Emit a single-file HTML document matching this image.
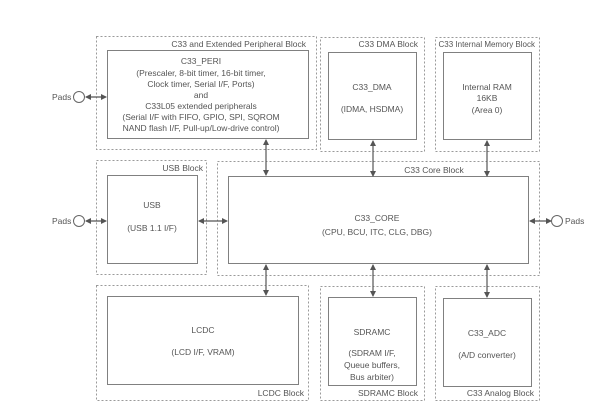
<!DOCTYPE html>
<html><head><meta charset="utf-8"><style>
html,body{margin:0;padding:0;background:#fff;width:607px;height:418px;overflow:hidden}
text{font-family:"Liberation Sans",Arial,sans-serif;font-size:8.5px;fill:#555}
</style></head><body>
<svg width="607" height="418" viewBox="0 0 607 418" xmlns="http://www.w3.org/2000/svg">
<defs>
<marker id="a" viewBox="0 0 6 6" refX="5" refY="3" markerWidth="5" markerHeight="5" orient="auto-start-reverse"><path d="M0,0L6,3L0,6z" fill="#555"/></marker>
</defs>
<g fill="none" stroke="#9a9a9a" stroke-width="1" stroke-dasharray="2,2">
<rect x="96.5" y="36.5" width="220" height="113"/>
<rect x="320.5" y="37.5" width="104" height="114"/>
<rect x="435.5" y="37.5" width="104" height="114"/>
<rect x="96.5" y="160.5" width="110" height="114"/>
<rect x="217.5" y="161.5" width="322" height="114"/>
<rect x="96.5" y="285.5" width="212" height="115"/>
<rect x="320.5" y="286.5" width="104" height="114"/>
<rect x="435.5" y="286.5" width="104" height="114"/>
</g>
<g fill="#fff" stroke="#808080" stroke-width="1">
<rect x="107.5" y="50.5" width="201" height="88"/>
<rect x="328.5" y="52.5" width="88" height="87"/>
<rect x="443.5" y="52.5" width="88" height="87"/>
<rect x="107.5" y="175.5" width="90" height="88"/>
<rect x="228.5" y="176.5" width="300" height="87"/>
<rect x="107.5" y="296.5" width="191" height="88"/>
<rect x="328.5" y="297.5" width="88" height="88"/>
<rect x="443.5" y="298.5" width="88" height="88"/>
</g>
<g stroke="#555" stroke-width="1.2" marker-start="url(#a)" marker-end="url(#a)">
<line x1="266" y1="140" x2="266" y2="175"/>
<line x1="373" y1="141" x2="373" y2="176"/>
<line x1="487" y1="141" x2="487" y2="176"/>
<line x1="266" y1="265" x2="266" y2="295"/>
<line x1="373" y1="265" x2="373" y2="296"/>
<line x1="487" y1="265" x2="487" y2="297"/>
<line x1="86" y1="97" x2="106" y2="97"/>
<line x1="86" y1="221" x2="106" y2="221"/>
<line x1="199" y1="221" x2="227" y2="221"/>
<line x1="530" y1="221" x2="551" y2="221"/>
</g>
<g fill="#fff" stroke="#666">
<circle cx="79" cy="97" r="5.5"/><circle cx="79" cy="221" r="5.5"/><circle cx="557" cy="221" r="5.5"/>
</g>
<text x="52" y="100">Pads</text><text x="52" y="224">Pads</text><text x="565" y="224">Pads</text>
<g text-anchor="end">
<text x="306" y="47">C33 and Extended Peripheral Block</text>
<text x="418" y="47">C33 DMA Block</text>
<text x="535" y="47" style="font-size:8px">C33 Internal Memory Block</text>
<text x="203" y="171">USB Block</text>
<text x="304" y="396">LCDC Block</text>
<text x="418" y="396">SDRAMC Block</text>
<text x="534" y="396">C33 Analog Block</text>
</g>
<text x="434" y="173" text-anchor="middle">C33 Core Block</text>
<g text-anchor="middle">
<text x="201" y="64">C33_PERI</text>
<text x="201" y="76">(Prescaler, 8-bit timer, 16-bit timer,</text>
<text x="201" y="87">Clock timer, Serial I/F, Ports)</text>
<text x="201" y="98">and</text>
<text x="201" y="109">C33L05 extended peripherals</text>
<text x="201" y="120">(Serial I/F with FIFO, GPIO, SPI, SQROM</text>
<text x="201" y="131">NAND flash I/F, Pull-up/Low-drive control)</text>
<text x="372" y="90">C33_DMA</text>
<text x="372" y="112">(IDMA, HSDMA)</text>
<text x="487" y="90">Internal RAM</text>
<text x="487" y="101">16KB</text>
<text x="487" y="113">(Area 0)</text>
<text x="152" y="208">USB</text>
<text x="152" y="231">(USB 1.1 I/F)</text>
<text x="377" y="221">C33_CORE</text>
<text x="377" y="235">(CPU, BCU, ITC, CLG, DBG)</text>
<text x="203" y="333">LCDC</text>
<text x="203" y="355">(LCD I/F, VRAM)</text>
<text x="372" y="335">SDRAMC</text>
<text x="372" y="356">(SDRAM I/F,</text>
<text x="372" y="368">Queue buffers,</text>
<text x="372" y="380">Bus arbiter)</text>
<text x="487" y="336">C33_ADC</text>
<text x="487" y="358">(A/D converter)</text>
</g>
</svg>
</body></html>
